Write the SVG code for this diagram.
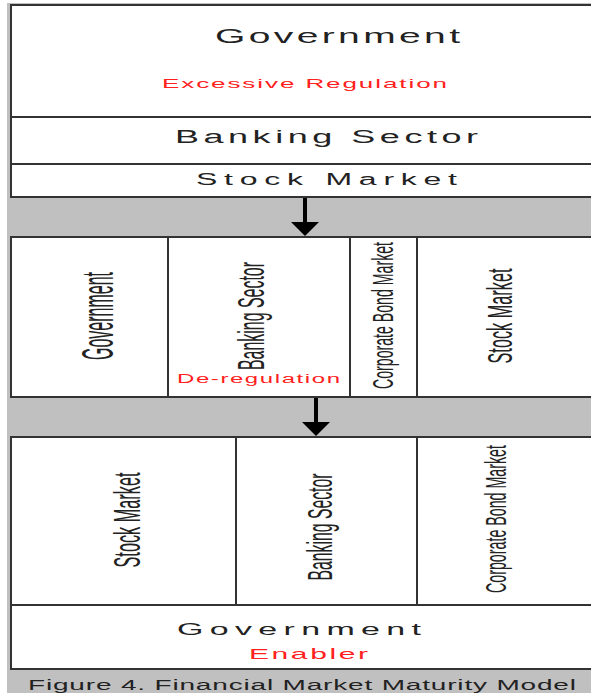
<svg xmlns="http://www.w3.org/2000/svg" width="591" height="693" viewBox="0 0 591 693">
<defs>
<style>
.box{fill:#ffffff;stroke:#333333;stroke-width:2}
.h{font-family:"Liberation Sans",Arial,sans-serif;fill:#222222}
.v{font-family:"Liberation Sans",Arial,sans-serif;fill:#222222;text-anchor:middle}
.red{fill:#ff2020}
.arrow{stroke:#000000;stroke-width:4;fill:none;marker-end:url(#ah)}
</style>
<marker id="ah" markerUnits="userSpaceOnUse" markerWidth="14" markerHeight="28" refX="0" refY="14" orient="auto" viewBox="0 0 14 28">
<path d="M0,0 L14,14 L0,28 Z" fill="#000000"/>
</marker>
</defs>
<rect x="7" y="3" width="590" height="690" fill="#c0c0c0"/>

<g id="top-government">
<rect class="box" x="11" y="5" width="582" height="112"/>
<text class="h" font-size="19.5" transform="translate(215,43) scale(2,1)" textLength="122.5" lengthAdjust="spacing">Government</text>
<text class="h red" font-size="13" transform="translate(162,88) scale(2,1)" textLength="142.5" lengthAdjust="spacing">Excessive Regulation</text>
</g>
<g id="top-banking">
<rect class="box" x="11" y="117" width="582" height="47"/>
<text class="h" font-size="18" transform="translate(175,143) scale(2,1)" textLength="151.5" lengthAdjust="spacing">Banking Sector</text>
</g>
<g id="top-stock">
<rect class="box" x="11" y="164" width="582" height="33"/>
<text class="h" font-size="16" transform="translate(196,185) scale(2,1)" textLength="130.5" lengthAdjust="spacing">Stock Market</text>
</g>

<g id="mid-government">
<rect class="box" x="11" y="237" width="157" height="160"/>
<text class="v" font-size="44" transform="translate(113,316) rotate(-90)" textLength="88" lengthAdjust="spacingAndGlyphs">Government</text>
</g>
<g id="mid-banking">
<rect class="box" x="168" y="237" width="182" height="160"/>
<text class="v" font-size="36" transform="translate(264,316) rotate(-90)" textLength="108" lengthAdjust="spacingAndGlyphs">Banking Sector</text>
<text class="h red" font-size="12" transform="translate(177,383) scale(2,1)" textLength="81.5" lengthAdjust="spacing">De-regulation</text>
</g>
<g id="mid-corporate">
<rect class="box" x="350" y="237" width="67" height="160"/>
<text class="v" font-size="29" transform="translate(393,315.5) rotate(-90)" textLength="147" lengthAdjust="spacingAndGlyphs">Corporate Bond Market</text>
</g>
<g id="mid-stock">
<rect class="box" x="417" y="237" width="176" height="160"/>
<text class="v" font-size="35" transform="translate(512,316) rotate(-90)" textLength="95" lengthAdjust="spacingAndGlyphs">Stock Market</text>
</g>

<g id="bot-stock">
<rect class="box" x="11" y="437" width="225" height="168"/>
<text class="v" font-size="37" transform="translate(140,520) rotate(-90)" textLength="95" lengthAdjust="spacingAndGlyphs">Stock Market</text>
</g>
<g id="bot-banking">
<rect class="box" x="236" y="437" width="181" height="168"/>
<text class="v" font-size="35" transform="translate(332,527) rotate(-90)" textLength="107" lengthAdjust="spacingAndGlyphs">Banking Sector</text>
</g>
<g id="bot-corporate">
<rect class="box" x="417" y="437" width="176" height="168"/>
<text class="v" font-size="29" transform="translate(506,519) rotate(-90)" textLength="148" lengthAdjust="spacingAndGlyphs">Corporate Bond Market</text>
</g>
<g id="bot-government">
<rect class="box" x="11" y="605" width="582" height="64"/>
<text class="h" font-size="17" transform="translate(177,635) scale(2,1)" textLength="122" lengthAdjust="spacing">Government</text>
<text class="h red" font-size="15" transform="translate(249,659) scale(2,1)" textLength="59.5" lengthAdjust="spacing">Enabler</text>
</g>

<g id="connectors">
<line class="arrow" x1="305" y1="198" x2="305" y2="222"/>
<line class="arrow" x1="316" y1="398" x2="316" y2="422"/>
</g>

<g id="caption">
<text class="h" font-size="14" transform="translate(28,690) scale(2,1)" textLength="274" lengthAdjust="spacing">Figure 4. Financial Market Maturity Model</text>
</g>
</svg>
